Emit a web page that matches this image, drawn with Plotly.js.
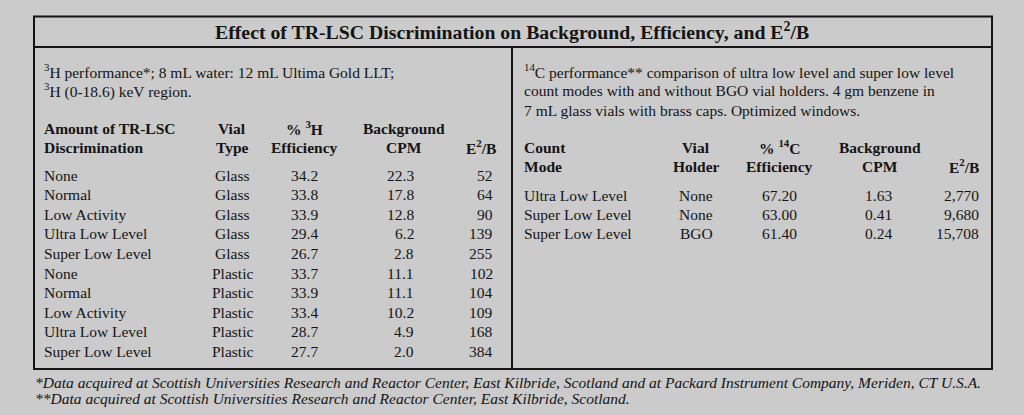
<!DOCTYPE html>
<html>
<head>
<meta charset="utf-8">
<script src="https://cdn.plot.ly/plotly-3.0.1.min.js"></script>
<style>
  html, body { margin: 0; padding: 0; background: #cbcbcb; }
  #myPlot { width: 1024px; height: 415px; }
</style>
</head>
<body>
<div id="myPlot"></div>
<script>
// Table data, 3H (left panel)
const h3Mode = ['None', 'Normal', 'Low Activity', 'Ultra Low Level', 'Super Low Level',
                'None', 'Normal', 'Low Activity', 'Ultra Low Level', 'Super Low Level'];
const h3Vial = ['Glass', 'Glass', 'Glass', 'Glass', 'Glass',
                'Plastic', 'Plastic', 'Plastic', 'Plastic', 'Plastic'];
const h3Eff = [34.2, 33.8, 33.9, 29.4, 26.7, 33.7, 33.9, 33.4, 28.7, 27.7];
const h3Bkg = [22.3, 17.8, 12.8, 6.2, 2.8, 11.1, 11.1, 10.2, 4.9, 2.0];
const h3E2B = [52, 64, 90, 139, 255, 102, 104, 109, 168, 384];

// Table data, 14C (right panel)
const c14Mode = ['Ultra Low Level', 'Super Low Level', 'Super Low Level'];
const c14Holder = ['None', 'None', 'BGO'];
const c14Eff = [67.20, 63.00, 61.40];
const c14Bkg = [1.63, 0.41, 0.24];
const c14E2B = [2770, 9680, 15708];

// Texts
const tableTitle = 'Effect of TR-LSC Discrimination on Background, Efficiency, and E<sup>2</sup>/B';
const h3Notes = ['<sup>3</sup>H performance*; 8 mL water: 12 mL Ultima Gold LLT;',
                 '<sup>3</sup>H (0-18.6) keV region.'];
const c14Notes = ['<sup>14</sup>C performance** comparison of ultra low level and super low level',
                  'count modes with and without BGO vial holders. 4 gm benzene in',
                  '7 mL glass vials with brass caps. Optimized windows.'];
const h3Head1 = ['Amount of TR-LSC', 'Vial', '% <sup>3</sup>H', 'Background', ''];
const h3Head2 = ['Discrimination', 'Type', 'Efficiency', 'CPM', 'E<sup>2</sup>/B'];
const c14Head1 = ['Count', 'Vial', '% <sup>14</sup>C', 'Background', ''];
const c14Head2 = ['Mode', 'Holder', 'Efficiency', 'CPM', 'E<sup>2</sup>/B'];
const footnotes = ['*Data acquired at Scottish Universities Research and Reactor Center, East Kilbride, Scotland and at Packard Instrument Company, Meriden, CT U.S.A.',
                   '**Data acquired at Scottish Universities Research and Reactor Center, East Kilbride, Scotland.'];

const ink = '#141414';
const serif = '"Liberation Serif", "Times New Roman", serif';
const bodyFont = {family: serif, size: 15.5, color: ink};

const annotations = [];
function addText(x, y, text, anchor, font) {
    if (!text) return;
    annotations.push({
        xref: 'x', yref: 'y', x: x, y: y, text: text,
        xanchor: anchor, yanchor: 'middle', showarrow: false,
        font: font, borderpad: 0
    });
}

// title
addText(512, 31, '<b>' + tableTitle + '</b>', 'center', {family: serif, size: 19.8, color: ink});

// left panel
h3Notes.forEach((t, i) => addText(43, 71 + i * 19.5, t, 'left', bodyFont));
const h3ColX = [43, 232, 304, 404, 497];
const h3ColA = ['left', 'center', 'center', 'center', 'right'];
h3Head1.forEach((t, i) => addText(h3ColX[i], 128, t && '<b>' + t + '</b>', h3ColA[i], bodyFont));
h3Head2.forEach((t, i) => addText(h3ColX[i], 147, t && '<b>' + t + '</b>', h3ColA[i], bodyFont));
h3Mode.forEach((m, i) => {
    const y = 175 + i * 19.6;
    addText(43, y, m, 'left', bodyFont);
    addText(232, y, h3Vial[i], 'center', bodyFont);
    addText(304, y, h3Eff[i].toFixed(1), 'center', bodyFont);
    addText(415, y, h3Bkg[i].toFixed(1), 'right', bodyFont);
    addText(494, y, String(h3E2B[i]), 'right', bodyFont);
});

// right panel
c14Notes.forEach((t, i) => addText(523, 71 + i * 19.5, t, 'left', bodyFont));
const c14ColX = [523, 696, 779, 880, 980];
const c14ColA = ['left', 'center', 'center', 'center', 'right'];
c14Head1.forEach((t, i) => addText(c14ColX[i], 147, t && '<b>' + t + '</b>', c14ColA[i], bodyFont));
c14Head2.forEach((t, i) => addText(c14ColX[i], 166, t && '<b>' + t + '</b>', c14ColA[i], bodyFont));
c14Mode.forEach((m, i) => {
    const y = 195 + i * 19.4;
    addText(523, y, m, 'left', bodyFont);
    addText(696, y, c14Holder[i], 'center', bodyFont);
    addText(779, y, c14Eff[i].toFixed(2), 'center', bodyFont);
    addText(893, y, c14Bkg[i].toFixed(2), 'right', bodyFont);
    addText(980, y, c14E2B[i].toLocaleString('en-US'), 'right', bodyFont);
});

// footnotes
footnotes.forEach((t, i) => addText(34, 382 + i * 16, '<i>' + t + '</i>', 'left',
    {family: serif, size: 15.5, color: ink}));

// box lines
const lineStyle = {color: ink, width: 2};
const shapes = [
    {type: 'rect', xref: 'x', yref: 'y', x0: 34, x1: 992, y0: 16.5, y1: 369, line: lineStyle},
    {type: 'line', xref: 'x', yref: 'y', x0: 34, x1: 992, y0: 47, y1: 47, line: lineStyle},
    {type: 'line', xref: 'x', yref: 'y', x0: 512, x1: 512, y0: 47, y1: 369, line: lineStyle},
];

const data = [{x: [], y: [], type: 'scatter', mode: 'markers', hoverinfo: 'skip'}];

const layout = {
    width: 1024,
    height: 415,
    margin: {l: 0, r: 0, t: 0, b: 0, pad: 0},
    xaxis: {range: [0, 1024], visible: false, fixedrange: true},
    yaxis: {range: [415, 0], visible: false, fixedrange: true},
    showlegend: false,
    paper_bgcolor: '#cbcbcb',
    plot_bgcolor: '#cbcbcb',
    annotations: annotations,
    shapes: shapes,
};

Plotly.newPlot('myPlot', data, layout, {staticPlot: true, displayModeBar: false});
</script>
</body>
</html>
